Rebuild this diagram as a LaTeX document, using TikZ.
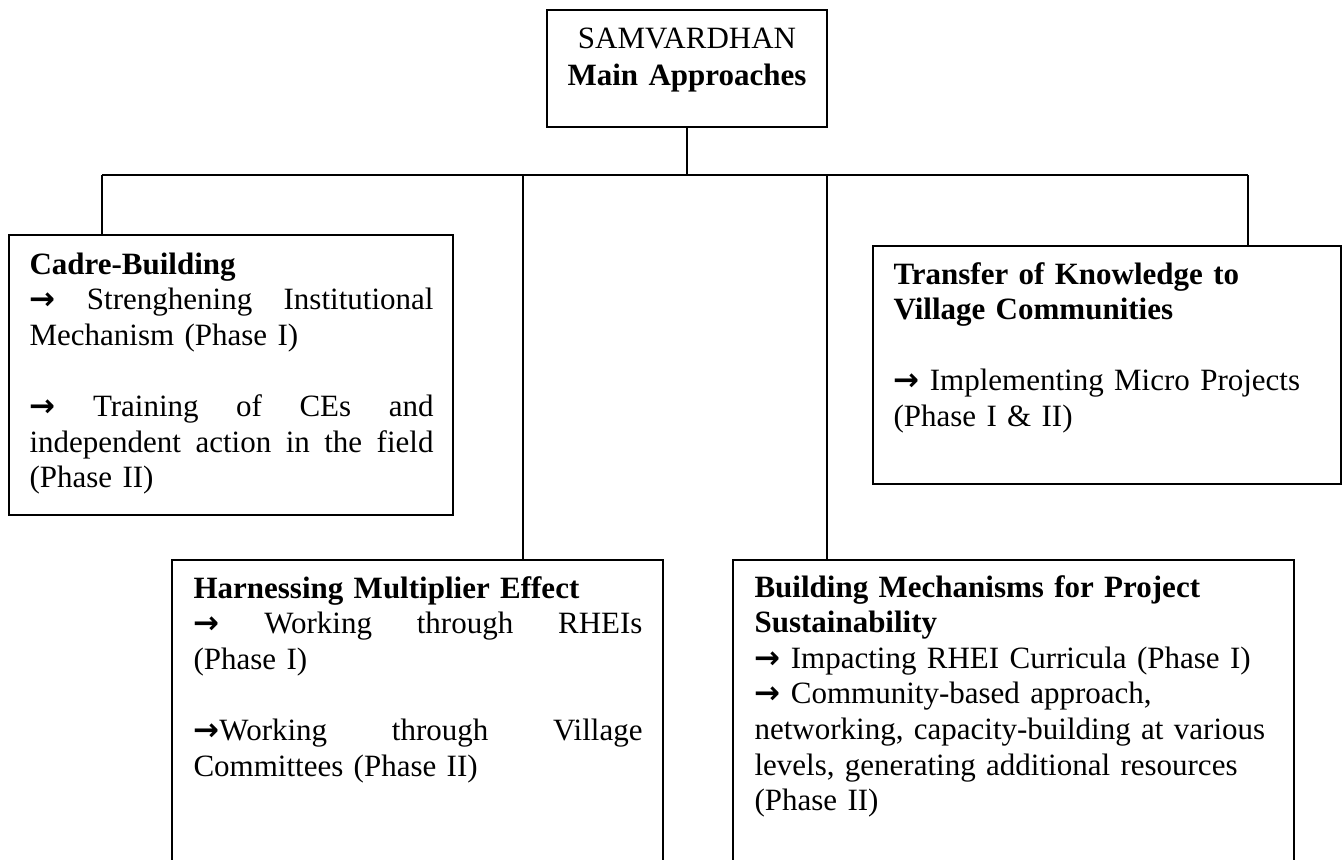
\documentclass[tikz,border=0pt]{standalone}
\usepackage{fontspec}
\setmainfont{Liberation Serif}
\newfontfamily\arrowfont{DejaVu Sans}
\usetikzlibrary{fit}
\newcommand\rarrow{{\arrowfont\bfseries →}}
\newcommand\jline[1]{\leavevmode\hbox to \hsize{\spaceskip=0.25em plus 1fil\relax #1}}
\begin{document}
\begin{tikzpicture}[
   x=0.387pt, y=-0.387pt,
   every node/.style={font=\fontsize{12}{13.8}\selectfont},
   box/.style={draw, line width=0.7pt, inner sep=0pt},
   txt/.style={anchor=base west, inner sep=0pt, align=left, text width=#1*0.387pt},
   link/.style={line width=0.7pt}]

\useasboundingbox (0,0) rectangle (1344,859);
\clip (0,0) rectangle (1344,859);

% boxes
\node[box, fit={(547,10) (827,127)}] (main) {};
\node[box, fit={(9,235) (453,515)}] (cadre) {};
\node[box, fit={(873,246) (1341,484)}] (transfer) {};
\node[box, fit={(172,560) (663,900)}] (harness) {};
\node[box, fit={(733,560) (1294,900)}] (sustain) {};

% texts
\node[txt=260, align=center, anchor=base] (maintxt) at (687,48)
   {SAMVARDHAN\\[0.8pt]\textbf{Main Approaches}};

\node[txt=404] (cadretxt) at (29,274) {\textbf{Cadre-Building}\\
   \jline{\rarrow\ Strenghening Institutional}\\
   Mechanism (Phase I)\\[13.8pt]
   \jline{\rarrow\ Training of CEs and}\\
   \jline{independent action in the field}\\
   (Phase II)};

\node[txt=430] (transfertxt) at (893,284) {\textbf{Transfer of Knowledge to}\\
   \textbf{Village Communities}\\[13.8pt]
   \rarrow\ Implementing Micro Projects\\
   (Phase I \& II)};

\node[txt=449] (harnesstxt) at (193,598) {\textbf{Harnessing Multiplier Effect}\\
   \jline{\rarrow\ Working through RHEIs}\\
   (Phase I)\\[13.8pt]
   \jline{\rarrow Working through Village}\\
   Committees (Phase II)};

\node[txt=525] (sustaintxt) at (754,597) {\textbf{Building Mechanisms for Project}\\
   \textbf{Sustainability}\\
   \rarrow\ Impacting RHEI Curricula (Phase I)\\
   \rarrow\ Community-based approach,\\
   networking, capacity-building at various\\
   levels, generating additional resources\\
   (Phase II)};

% connectors
\coordinate (hub) at (687,175);
\coordinate (tapA) at (102,175);
\coordinate (tapB) at (523,175);
\coordinate (tapC) at (827,175);
\coordinate (tapD) at (1248,175);

\draw[link] (main.south) -- (hub);
\draw[link] (tapA) -- (tapD);
\draw[link] (tapA) -- (tapA |- cadre.north);
\draw[link] (tapB) -- (tapB |- harness.north);
\draw[link] (tapC) -- (tapC |- sustain.north);
\draw[link] (tapD) -- (tapD |- transfer.north);

\end{tikzpicture}
\end{document}
